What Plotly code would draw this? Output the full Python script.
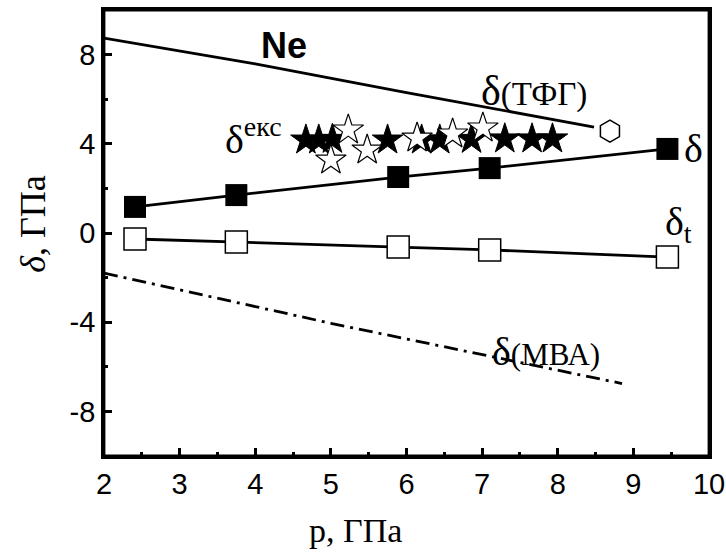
import plotly.graph_objects as go

# δ (filled squares)
p_delta = [2.41, 3.75, 5.89, 7.10, 9.45]
delta = [1.17, 1.70, 2.51, 2.91, 3.77]
# δt (open squares)
p_delta_t = [2.41, 3.75, 5.89, 7.10, 9.45]
delta_t = [-0.27, -0.40, -0.63, -0.76, -1.08]
# δ(ТФГ) line and hexagon point
p_tfg = [2.0, 4.0, 6.0, 8.48]
delta_tfg = [8.74, 7.58, 6.30, 4.75]
p_hex = [8.69]
delta_hex = [4.57]
# δ(МВА) dash-dot line
p_mva = [2.0, 5.0, 8.85]
delta_mva = [-1.80, -4.05, -6.75]
# δ экс filled stars
p_exp_f = [4.67, 4.84, 5.02, 5.75, 6.20, 6.44, 6.86, 7.30, 7.66, 7.93]
delta_exp_f = [4.17, 4.17, 4.20, 4.17, 4.17, 4.17, 4.20, 4.22, 4.22, 4.22]
# δ экс open stars
p_exp_o = [5.00, 5.23, 5.48, 6.14, 6.61, 7.01]
delta_exp_o = [3.27, 4.62, 3.72, 4.26, 4.44, 4.71]

x_ticks = [2, 3, 4, 5, 6, 7, 8, 9, 10]
y_ticks = [-8, -4, 0, 4, 8]

fig = go.Figure()

fig.add_trace(go.Scatter(x=p_tfg, y=delta_tfg, mode="lines",
                         line=dict(color="black", width=2.8), showlegend=False))
fig.add_trace(go.Scatter(x=p_hex, y=delta_hex, mode="markers",
                         marker=dict(symbol="hexagon", size=22, color="white",
                                     line=dict(color="black", width=1.5)),
                         showlegend=False))
fig.add_trace(go.Scatter(x=p_mva, y=delta_mva, mode="lines",
                         line=dict(color="black", width=2.8, dash="14px,6px,3px,6px"),
                         showlegend=False))
fig.add_trace(go.Scatter(x=p_delta, y=delta, mode="lines+markers",
                         line=dict(color="black", width=2.8),
                         marker=dict(symbol="square", size=22, color="black",
                                     line=dict(color="black", width=0)),
                         showlegend=False))
fig.add_trace(go.Scatter(x=p_delta_t, y=delta_t, mode="lines+markers",
                         line=dict(color="black", width=2.8),
                         marker=dict(symbol="square", size=22, color="white",
                                     line=dict(color="black", width=1.5)),
                         showlegend=False))
fig.add_trace(go.Scatter(x=p_exp_f, y=delta_exp_f, mode="markers",
                         marker=dict(symbol="star", size=23, color="black",
                                     line=dict(color="black", width=1)),
                         showlegend=False))
fig.add_trace(go.Scatter(x=p_exp_o, y=delta_exp_o, mode="markers",
                         marker=dict(symbol="star", size=23, color="white",
                                     line=dict(color="black", width=1.2)),
                         showlegend=False))

serif = "Liberation Serif"
sans = "Liberation Sans"

ann = [
    dict(x=4.38, y=8.39, text="<b>Ne</b>", font=dict(family=sans, size=36)),
    dict(x=7.69, y=6.35, text="δ<span style='font-size:33px'>(ТФГ)</span>", font=dict(family=serif, size=42)),
    dict(x=3.98, y=4.35, text="δ<sup>екс</sup>", font=dict(family=serif, size=40)),
    dict(x=9.80, y=3.77, text="δ", font=dict(family=serif, size=40)),
    dict(x=9.60, y=0.40, text="δ<sub>t</sub>", font=dict(family=serif, size=40)),
    dict(x=7.85, y=-5.30, text="δ<span style='font-size:31px'>(МВА)</span>", font=dict(family=serif, size=40)),
]
for a in ann:
    a.update(xref="x", yref="y", showarrow=False, xanchor="center", yanchor="middle",
             font=dict(color="black", **a["font"]))
    fig.add_annotation(**a)

# axis titles
fig.add_annotation(xref="paper", yref="paper", x=0.415, y=-0.168, text="p, ГПа",
                   showarrow=False, xanchor="center", yanchor="middle",
                   font=dict(family=serif, size=34, color="black"))
fig.add_annotation(xref="paper", yref="paper", x=-0.118, y=0.52, text="<i>δ</i>, ГПа",
                   showarrow=False, xanchor="center", yanchor="middle", textangle=-90,
                   font=dict(family=serif, size=36, color="black"))

# plot frame
fig.add_shape(type="rect", xref="paper", yref="paper", x0=0, x1=1, y0=0, y1=1,
              line=dict(color="black", width=2.8), layer="above")

fig.update_xaxes(range=[2, 10], tickvals=x_ticks, ticktext=[str(v) for v in x_ticks],
                 ticks="inside", ticklen=8, tickwidth=2.5, tickcolor="black",
                 minor=dict(dtick=0.5, ticks="inside", ticklen=4, tickwidth=2.5, tickcolor="black"),
                 showline=True, linecolor="black", linewidth=2.8, mirror=True,
                 showgrid=False, zeroline=False, automargin=False, ticklabeloverflow="allow",
                 tickfont=dict(family=sans, size=29, color="black"))
fig.update_yaxes(range=[-10, 10], tickvals=y_ticks, ticktext=[str(v) for v in y_ticks],
                 ticks="inside", ticklen=8, tickwidth=2.5, tickcolor="black",
                 minor=dict(dtick=2, ticks="inside", ticklen=4, tickwidth=2.5, tickcolor="black"),
                 showline=True, linecolor="black", linewidth=2.8, mirror=True,
                 showgrid=False, zeroline=False, automargin=False,
                 tickfont=dict(family=sans, size=29, color="black"))

fig.update_layout(width=726, height=552, margin=dict(l=104, r=17, t=10, b=96),
                  plot_bgcolor="white", paper_bgcolor="white")

fig.write_html("out.html", config={"displayModeBar": False},
               post_script="document.body.style.margin='0';document.body.style.overflow='hidden';")
